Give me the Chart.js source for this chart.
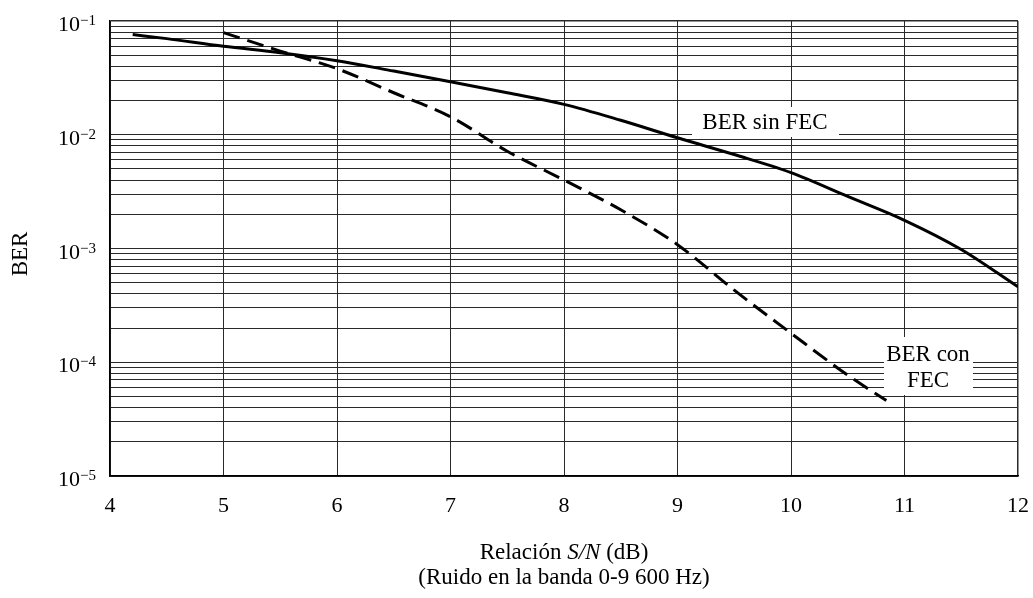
<!DOCTYPE html>
<html><head><meta charset="utf-8">
<script src="https://cdn.jsdelivr.net/npm/chart.js@4.4.1/dist/chart.umd.min.js"></script>
<style>html,body{margin:0;padding:0;background:#fff}#wrap{width:1033px;height:598px}</style>
</head><body><div id="wrap"><canvas id="c" width="1033" height="598"></canvas></div>
<script>
// ---- data ----
const snrSinFEC = [4.2, 4.5, 5, 5.5, 6, 6.5, 7, 7.5, 8, 8.5, 9, 9.5, 10, 10.5, 11, 11.5, 12];
const berSinFEC = [0.076, 0.070, 0.060, 0.0527, 0.0448, 0.0363, 0.0292, 0.0234, 0.0185, 0.0134, 0.0094, 0.0067, 0.00465, 0.00287, 0.00177, 0.00098, 0.00046];
const snrConFEC = [5, 5.5, 6, 6.5, 7, 7.5, 8, 8.5, 9, 9.5, 10, 10.5, 10.84];
const berConFEC = [0.079, 0.0544, 0.0381, 0.0234, 0.0144, 0.00716, 0.0040, 0.00219, 0.00108, 0.00043, 0.00018, 0.000077, 0.000046];
const xTicks = [4, 5, 6, 7, 8, 9, 10, 11, 12];
const yDecades = [-5, -4, -3, -2, -1];
const yTitle = 'BER';
const xTitleLine1 = ['Relación ', 'S/N', ' (dB)'];
const xTitleLine2 = '(Ruido en la banda 0-9 600 Hz)';
const labelSin = ['BER sin FEC'];
const labelCon = ['BER con', 'FEC'];

const SERIF = '"Liberation Serif", "DejaVu Serif", serif';

function pts(xs, ys) { return xs.map((x, i) => ({ x: x, y: ys[i] })); }

const yGridValues = [];
for (let k = 0; k < yDecades.length - 1; k++) {
  for (let m = 1; m <= 9; m++) yGridValues.push(m * Math.pow(10, yDecades[k]));
}
yGridValues.push(Math.pow(10, yDecades[yDecades.length - 1]));

const textPlugin = {
  id: 'texts',
  beforeDatasetsDraw(chart) {
    const ctx = chart.ctx;
    ctx.save();
    ctx.fillStyle = '#fff';
    ctx.fillRect(692, 107, 147, 30);
    ctx.fillRect(884, 337, 89, 58);
    ctx.restore();
  },
  afterDraw(chart) {
    const ctx = chart.ctx;
    const xs = chart.scales.x, ys = chart.scales.y;
    ctx.save();
    ctx.fillStyle = '#000';
    ctx.textBaseline = 'alphabetic';
    // y tick labels 10^n
    yDecades.forEach(e => {
      const y = ys.getPixelForValue(Math.pow(10, e)) + 10;
      ctx.font = '22px ' + SERIF;
      ctx.textAlign = 'right';
      ctx.fillText('10', 80, y);
      ctx.font = '15px ' + SERIF;
      ctx.textAlign = 'left';
      ctx.fillText('\u2212' + Math.abs(e), 80, y - 6);
    });
    // x tick labels
    ctx.font = '22px ' + SERIF;
    ctx.textAlign = 'center';
    xTicks.forEach(v => {
      ctx.fillText(String(v), xs.getPixelForValue(v), 511.5);
    });
    // y title
    ctx.save();
    ctx.font = '23px ' + SERIF;
    ctx.translate(26.5, 254);
    ctx.rotate(-Math.PI / 2);
    ctx.textAlign = 'center';
    ctx.fillText(yTitle, 0, 0);
    ctx.restore();
    // x title line 1 (mixed italic)
    const cx = (chart.chartArea.left + chart.chartArea.right) / 2;
    const fonts = ['23px ' + SERIF, 'italic 23px ' + SERIF, '23px ' + SERIF];
    let total = 0;
    const widths = xTitleLine1.map((s, i) => { ctx.font = fonts[i]; const w = ctx.measureText(s).width; total += w; return w; });
    let x0 = cx - total / 2;
    ctx.textAlign = 'left';
    xTitleLine1.forEach((s, i) => { ctx.font = fonts[i]; ctx.fillText(s, x0, 559); x0 += widths[i]; });
    ctx.font = '23px ' + SERIF;
    ctx.textAlign = 'center';
    ctx.fillText(xTitleLine2, cx, 584);
    // curve labels
    ctx.fillText(labelSin[0], 765, 129);
    ctx.fillText(labelCon[0], 928, 361);
    ctx.fillText(labelCon[1], 928, 387);
    ctx.restore();
  }
};

new Chart(document.getElementById('c'), {
  type: 'line',
  data: {
    datasets: [
      { label: 'BER sin FEC', data: pts(snrSinFEC, berSinFEC), borderColor: '#000', borderWidth: 3, pointRadius: 0, cubicInterpolationMode: 'monotone', fill: false },
      { label: 'BER con FEC', data: pts(snrConFEC, berConFEC), borderColor: '#000', borderWidth: 3, borderDash: [17, 8], pointRadius: 0, cubicInterpolationMode: 'monotone', fill: false }
    ]
  },
  options: {
    responsive: false,
    animation: false,
    devicePixelRatio: 1,
    layout: { padding: { left: 110, top: 21, right: 15, bottom: 122 } },
    plugins: { legend: { display: false }, tooltip: { enabled: false }, title: { display: false } },
    scales: {
      x: {
        type: 'linear', min: 4, max: 12,
        afterBuildTicks: s => { s.ticks = xTicks.map(v => ({ value: v })); },
        ticks: { display: false },
        grid: { color: '#2a2a2a', lineWidth: c => (c.index === xTicks.length - 1 ? 1.5 : 1), drawTicks: false },
        border: { color: '#000', width: 1.5 }
      },
      y: {
        type: 'logarithmic', min: 1e-5, max: 1e-1,
        afterBuildTicks: s => { s.ticks = yGridValues.map(v => ({ value: v })); },
        ticks: { display: false, autoSkip: false },
        grid: { color: '#2a2a2a', lineWidth: c => (c.index === yGridValues.length - 1 ? 1.5 : 1), drawTicks: false },
        border: { color: '#000', width: 1.5 }
      }
    }
  },
  plugins: [textPlugin]
});
</script>
</body></html>
